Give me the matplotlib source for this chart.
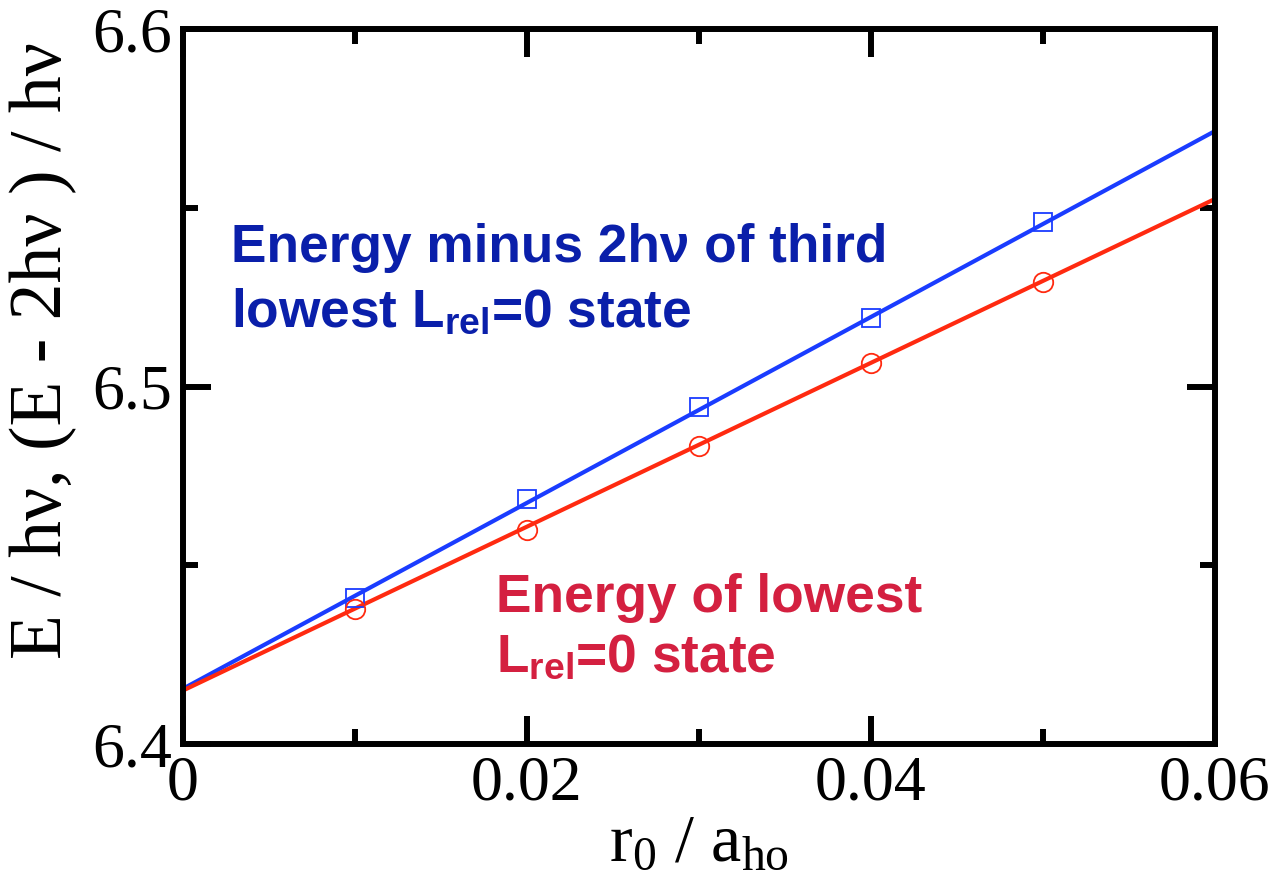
import matplotlib
matplotlib.use("Agg")
import matplotlib.pyplot as plt
from matplotlib.ticker import MultipleLocator

# data
r0 = [0.01, 0.02, 0.03, 0.04, 0.05]
e_third = [6.4408, 6.4685, 6.4943, 6.5192, 6.5460]
e_lowest = [6.4378, 6.4599, 6.4834, 6.5066, 6.5292]

fit_x = [0.0, 0.06]
fit_third = [6.4155, 6.5715]
fit_lowest = [6.4150, 6.5525]

plt.rcParams["mathtext.fontset"] = "custom"
plt.rcParams["mathtext.rm"] = "Liberation Serif"
plt.rcParams["mathtext.it"] = "Liberation Serif:italic"
plt.rcParams["mathtext.bf"] = "Liberation Sans:bold"

blue = "#1a3cff"
red = "#ff2a10"

fig = plt.figure(figsize=(12.8, 8.89), dpi=100)
ax = fig.add_axes([0.143, 0.163, 0.806, 0.804])

ax.plot(fit_x, fit_third, color=blue, lw=3)
ax.plot(fit_x, fit_lowest, color=red, lw=3)
ax.plot(r0, e_third, ls="none", marker="s", ms=13, mfc="none", mec=blue, mew=1.3)
ax.plot(r0, e_lowest, ls="none", marker="o", ms=14, mfc="none", mec=red, mew=1.3)

ax.set_xlim(0, 0.06)
ax.set_ylim(6.4, 6.6)
ax.xaxis.set_minor_locator(MultipleLocator(0.01))
ax.yaxis.set_minor_locator(MultipleLocator(0.05))
ax.set_xticks([0, 0.02, 0.04, 0.06])
ax.set_xticklabels(["0", "0.02", "0.04", "0.06"])
ax.set_yticks([6.4, 6.5, 6.6])
ax.set_yticklabels(["6.4", "6.5", "6.6"])

for s in ax.spines.values():
    s.set_linewidth(4.3)
ax.tick_params(which="both", direction="in", top=True, right=True, width=4.3)
ax.tick_params(which="major", length=20, pad=8)
ax.tick_params(which="minor", length=11)
for lab in ax.get_xticklabels() + ax.get_yticklabels():
    lab.set_fontfamily("Liberation Serif")
    lab.set_fontsize(46)

ax.set_xlabel(r"r$_0$ / a$_{\rm ho}$", fontfamily="Liberation Serif", fontsize=49, labelpad=0)
ax.set_ylabel("E / hν, (E - 2hν ) / hν", fontfamily="Liberation Serif", fontsize=53)
ax.yaxis.set_label_coords(-0.103, 0.55)

txt = dict(fontfamily="Liberation Sans", fontweight="bold", fontsize=38.3, va="baseline")
ax.text(0.0028, 6.5348, "Energy minus 2hν of third", color="#0a1faa", **txt)
ax.text(0.0028, 6.5169, r"lowest L$_{\mathbf{rel}}$=0 state", color="#0a1faa", **txt)
ax.text(0.0182, 6.4369, "Energy of lowest", color="#d42040", **txt)
ax.text(0.0182, 6.4201, r"L$_{\mathbf{rel}}$=0 state", color="#d42040", **txt)

fig.savefig("out.png", dpi=100)
